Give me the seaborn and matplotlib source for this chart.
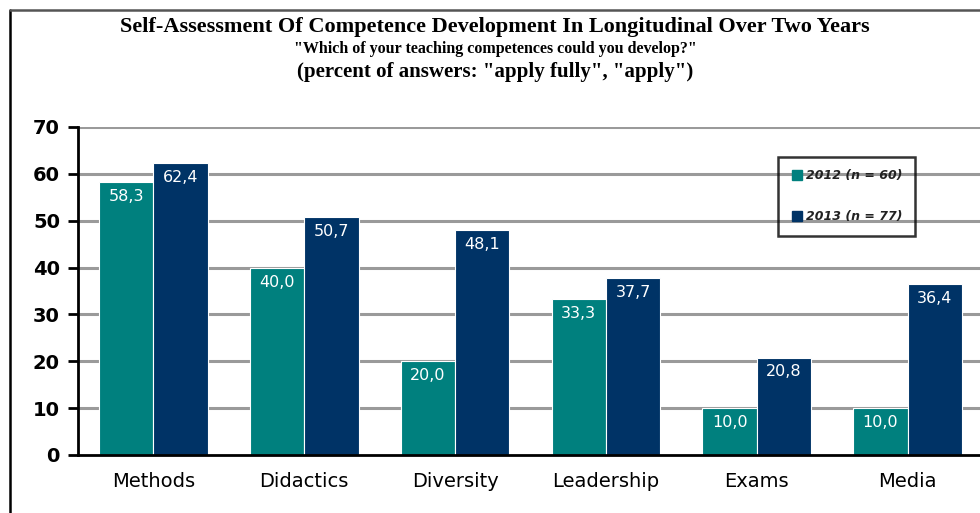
import pandas as pd
import matplotlib.pyplot as plt
import seaborn as sns
from matplotlib.lines import Line2D

# data
categories = ["Methods", "Didactics", "Diversity", "Leadership", "Exams", "Media"]
values_2012 = [58.3, 40.0, 20.0, 33.3, 10.0, 10.0]
values_2013 = [62.4, 50.7, 48.1, 37.7, 20.8, 36.4]
series_labels = ["2012 (n = 60)", "2013 (n = 77)"]
colors = ["#00807E", "#003366"]

df = pd.DataFrame({
    "category": categories * 2,
    "value": values_2012 + values_2013,
    "year": [series_labels[0]] * len(categories) + [series_labels[1]] * len(categories),
})

sns.set_style("white")
plt.rcParams['font.family'] = ['DejaVu Sans']
plt.rcParams['text.color'] = 'black'
plt.rcParams['xtick.color'] = 'black'
plt.rcParams['ytick.color'] = 'black'

fig = plt.figure(figsize=(9.8, 5.13), dpi=100)
ax = fig.add_axes([78 / 980, 1 - 455 / 513, 1 - 78 / 980, (455 - 127) / 513])

sns.barplot(data=df, x="category", y="value", hue="year", palette=colors,
            saturation=1, width=0.72, edgecolor="white", linewidth=0.8,
            ax=ax, zorder=3)

# gridlines
for y in range(10, 80, 10):
    ax.axhline(y, color="#9a9a9a", lw=2.2, zorder=1)

ax.set_ylim(0, 70)
ax.set_xlim(-0.5, 5.48)
ax.set_yticks(range(0, 80, 10))
ax.set_xlabel("")
ax.set_ylabel("")
for s in ["top", "right"]:
    ax.spines[s].set_visible(False)
for s in ["left", "bottom"]:
    ax.spines[s].set_linewidth(2)
    ax.spines[s].set_color("black")
    ax.spines[s].set_zorder(4)
ax.tick_params(axis="y", direction="out", length=7, width=2, labelsize=14, pad=6, left=True)
ax.tick_params(axis="x", length=0, labelsize=14, pad=12)
for t in ax.get_yticklabels():
    t.set_fontweight("bold")

# value labels inside bars
for cont in ax.containers:
    for bar in cont:
        h = bar.get_height()
        ax.annotate(f"{h:.1f}".replace(".", ","),
                    (bar.get_x() + bar.get_width() / 2, h),
                    xytext=(0, -5), textcoords="offset points",
                    ha="center", va="top", color="white", fontsize=11.5, zorder=5)

# legend
handles = [Line2D([], [], marker="s", ls="", color=c, markersize=7) for c in colors]
leg = ax.legend(handles, series_labels, loc="upper left",
                bbox_to_anchor=((778 - 78) / 902, (455 - 157) / 328),
                frameon=True, fontsize=9, labelspacing=2.2, handletextpad=0.2,
                borderpad=1.0, handlelength=1.0, borderaxespad=0)
leg.get_frame().set_facecolor("none")
leg.get_frame().set_edgecolor("black")
leg.get_frame().set_linewidth(1.8)
leg.get_frame().set_boxstyle("square", pad=0)
for t in leg.get_texts():
    t.set_fontweight("bold")
    t.set_fontstyle("italic")
    t.set_color("#222222")

# titles
fig.text(0.505, 1 - 27 / 513, "Self-Assessment Of Competence Development In Longitudinal Over Two Years",
         ha="center", va="center", fontsize=16, fontweight="bold", family="Liberation Serif")
fig.text(0.505, 1 - 49 / 513, "\"Which of your teaching competences could you develop?\"",
         ha="center", va="center", fontsize=11.5, fontweight="bold", family="Liberation Serif")
fig.text(0.505, 1 - 72 / 513, "(percent of answers: \"apply fully\", \"apply\")",
         ha="center", va="center", fontsize=15, fontweight="bold", family="Liberation Serif")

# outer frame lines
fig.add_artist(Line2D([10 / 980, 10 / 980], [0, 1 - 10 / 513], color="black", lw=1.8))
fig.add_artist(Line2D([10 / 980, 1], [1 - 10 / 513, 1 - 10 / 513], color="#555555", lw=1.8))

fig.savefig("out.png", dpi=100)
